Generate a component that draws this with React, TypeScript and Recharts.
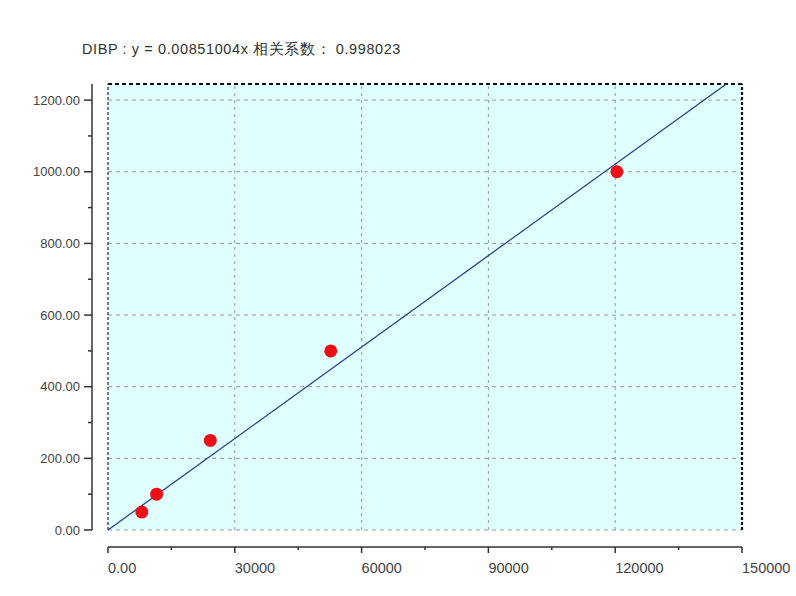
import React from "react"
import {
  ComposedChart,
  Scatter,
  XAxis,
  YAxis,
  ReferenceLine,
  ReferenceArea,
} from "recharts"

// Points de calibration (aire du pic -> concentration)
const peakArea = [8000, 11500, 24200, 52700, 120400]
const concentration = [50, 100, 250, 500, 1000]

const slope = 0.00851004
const correlation = "0.998023"

const xTicks = [0, 15000, 30000, 45000, 60000, 75000, 90000, 105000, 120000, 135000, 150000]
const xMajor = [0, 30000, 60000, 90000, 120000, 150000]
const yTicks = [0, 100, 200, 300, 400, 500, 600, 700, 800, 900, 1000, 1100, 1200]
const yMajor = [0, 200, 400, 600, 800, 1000, 1200]

const X_MAX = 150000
const Y_MAX = 1245

const points = peakArea.map((x, i) => ({ x, y: concentration[i] }))

const AXIS = "#333"
const LABEL = "#444"
const GRID = "#9a9a9a"

const YTick = ({ x, y, payload }: any) => {
  const major = yMajor.includes(payload.value)
  return (
    <g>
      <line x1={x - 16 - (major ? 8 : 4)} x2={x - 16} y1={y} y2={y} stroke={AXIS} strokeWidth={1.5} />
      {major && (
        <text x={x - 28} y={y} dy={4.5} textAnchor="end" fontSize={13} fill={LABEL}>
          {payload.value.toFixed(2)}
        </text>
      )}
    </g>
  )
}

const XTick = ({ x, y, payload }: any) => {
  const major = xMajor.includes(payload.value)
  return (
    <g>
      <line x1={x} x2={x} y1={y + 17} y2={y + 17 + (major ? 6 : 3)} stroke={AXIS} strokeWidth={1.5} />
      {major && (
        <text x={x} y={y + 38} dy={5} textAnchor="start" fontSize={14.5} fill={LABEL}>
          {payload.value === 0 ? "0.00" : String(payload.value)}
        </text>
      )}
    </g>
  )
}

const Dot = ({ cx, cy }: any) => <circle cx={cx} cy={cy} r={6.5} fill="#ec1016" />

export default function App() {
  const lineEndX = Y_MAX / slope

  return (
    <div
      style={{
        position: "fixed",
        left: 0,
        top: 0,
        width: 796,
        height: 596,
        background: "#fff",
        fontFamily: "'Liberation Sans', Arial, sans-serif",
      }}
    >
      <div
        style={{
          position: "absolute",
          left: 82,
          top: 40,
          fontSize: 14.5,
          letterSpacing: 0.6,
          color: "#333",
          whiteSpace: "pre",
        }}
      >
        {`DIBP : y = ${slope}x 相关系数： ${correlation}`}
      </div>
      <ComposedChart
        width={796}
        height={596}
        margin={{ top: 84, right: 54, bottom: 0, left: 8 }}
        style={{ fontFamily: "'Liberation Sans', Arial, sans-serif" }}
      >
        <XAxis
          type="number"
          dataKey="x"
          domain={[0, X_MAX]}
          ticks={xTicks}
          interval={0}
          height={66}
          tickSize={0}
          tickMargin={0}
          tickLine={false}
          tick={<XTick />}
          axisLine={{ stroke: AXIS, strokeWidth: 1.5, transform: "translate(0 17)" }}
        />
        <YAxis
          type="number"
          dataKey="y"
          domain={[0, Y_MAX]}
          ticks={yTicks}
          interval={0}
          width={100}
          tickSize={0}
          tickMargin={0}
          tickLine={false}
          tick={<YTick />}
          axisLine={{ stroke: AXIS, strokeWidth: 1.5, transform: "translate(-16 0)" }}
        />
        <ReferenceArea x1={0} x2={X_MAX} y1={0} y2={Y_MAX} fill="#e0ffff" fillOpacity={1} stroke="none" />
        {yMajor.map((v) => (
          <ReferenceLine key={`h-${v}`} y={v} stroke={GRID} strokeDasharray="4 4" />
        ))}
        {xMajor.slice(1, -1).map((v) => (
          <ReferenceLine key={`v-${v}`} x={v} stroke={GRID} strokeDasharray="3 4" />
        ))}
        <ReferenceLine x={0} stroke="#222" strokeDasharray="3 2" strokeWidth={1.2} />
        <ReferenceLine y={Y_MAX} stroke="#111" strokeDasharray="4 3" strokeWidth={2} />
        <ReferenceLine x={X_MAX} stroke="#111" strokeDasharray="3 2" strokeWidth={2.2} />
        <ReferenceLine
          segment={[
            { x: 0, y: 0 },
            { x: lineEndX, y: Y_MAX },
          ]}
          stroke="#2d3f8f"
          strokeWidth={1.3}
          ifOverflow="visible"
        />
        <Scatter data={points} shape={<Dot />} isAnimationActive={false} />
      </ComposedChart>
    </div>
  )
}
